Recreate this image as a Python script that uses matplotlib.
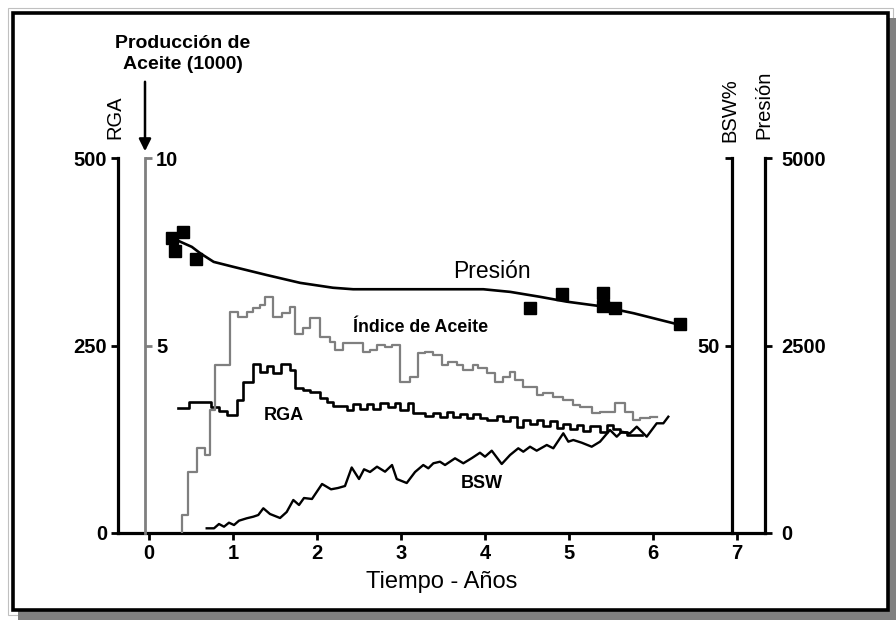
import matplotlib
matplotlib.use("Agg")
import matplotlib.pyplot as plt
from matplotlib.patches import Rectangle

plt.rcParams['font.family'] = ['Liberation Sans', 'DejaVu Sans']

# Presion: puntos medidos (anios, psi)
pres_anios = [0.27, 0.31, 0.40, 0.56, 4.53, 4.92, 5.40, 5.40, 5.55, 6.32]
pres_vals = [3930, 3760, 4015, 3650, 2995, 3185, 3195, 3025, 3005, 2790]

# Presion: curva suavizada
curva_anios = [0.33, 0.51, 0.61, 0.77, 1.00, 1.40, 1.80, 2.19, 2.43, 2.99,
               3.98, 4.30, 4.65, 4.97, 5.37, 5.77, 6.32]
curva_vals = [3905, 3815, 3730, 3615, 3550, 3440, 3335, 3270, 3250, 3250,
              3250, 3215, 3150, 3085, 3025, 2930, 2775]

# Produccion de aceite (miles) - escalones
aceite_anios = [0.389, 0.389, 0.468, 0.568, 0.667, 0.726, 0.786, 0.964, 1.063, 1.163,
                1.242, 1.321, 1.381, 1.480, 1.580, 1.679, 1.738, 1.837, 1.917, 2.036,
                2.155, 2.214, 2.310, 2.548, 2.631, 2.714, 2.810, 2.893, 2.988, 3.107,
                3.202, 3.286, 3.381, 3.488, 3.560, 3.667, 3.738, 3.857, 3.917, 4.024,
                4.119, 4.214, 4.298, 4.357, 4.452, 4.619, 4.690, 4.810, 4.929, 5.048,
                5.131, 5.274, 5.369, 5.548, 5.667, 5.762, 5.845, 5.964, 6.048]
aceite_vals = [0.0, 0.48, 1.63, 2.26, 2.08, 3.28, 4.48, 5.90, 5.77, 5.89,
               6.00, 6.08, 6.30, 5.77, 5.86, 6.03, 5.32, 5.47, 5.73, 5.23,
               5.10, 4.88, 5.06, 4.83, 4.88, 5.01, 4.97, 5.01, 4.03, 4.17,
               4.79, 4.83, 4.75, 4.48, 4.57, 4.48, 4.35, 4.48, 4.40, 4.27,
               4.03, 4.17, 4.30, 4.08, 3.90, 3.68, 3.73, 3.63, 3.55, 3.41,
               3.37, 3.19, 3.23, 3.46, 3.23, 3.01, 3.06, 3.10, 3.10]

# RGA - escalones
rga_anios = [0.345, 0.476, 0.738, 0.833, 0.929, 1.048, 1.119, 1.238, 1.321, 1.405,
             1.476, 1.571, 1.679, 1.738, 1.833, 1.917, 2.036, 2.119, 2.190, 2.274,
             2.357, 2.429, 2.512, 2.595, 2.667, 2.750, 2.845, 2.929, 2.988, 3.083,
             3.143, 3.286, 3.381, 3.464, 3.548, 3.619, 3.702, 3.786, 3.857, 3.940,
             4.024, 4.143, 4.214, 4.298, 4.381, 4.452, 4.536, 4.619, 4.690, 4.774,
             4.857, 4.929, 5.012, 5.095, 5.167, 5.250, 5.369, 5.452, 5.524, 5.607,
             5.690, 5.869]
rga_vals = [167, 175, 168, 163, 157, 177, 201, 225, 215, 223,
            213, 225, 217, 193, 191, 188, 180, 175, 169, 169,
            164, 172, 165, 172, 165, 173, 168, 173, 164, 173,
            160, 156, 160, 155, 161, 155, 159, 153, 159, 153,
            151, 156, 149, 155, 141, 151, 145, 151, 143, 149,
            140, 145, 139, 144, 136, 143, 135, 144, 139, 135,
            131, 131]

# BSW %
bsw_anios = [0.687, 0.774, 0.833, 0.893, 0.952, 1.012, 1.071, 1.163, 1.242, 1.301,
             1.361, 1.440, 1.560, 1.639, 1.718, 1.786, 1.845, 1.940, 2.060, 2.167,
             2.250, 2.333, 2.413, 2.500, 2.560, 2.631, 2.714, 2.810, 2.893, 2.949,
             3.068, 3.167, 3.265, 3.325, 3.385, 3.464, 3.524, 3.643, 3.742, 3.845,
             3.940, 4.000, 4.080, 4.199, 4.298, 4.396, 4.456, 4.536, 4.615, 4.735,
             4.813, 4.932, 4.992, 5.051, 5.151, 5.270, 5.369, 5.488, 5.568, 5.627,
             5.726, 5.806, 5.925, 6.044, 6.123, 6.182]
bsw_vals = [1.25, 1.25, 2.4, 1.68, 2.75, 2.13, 3.28, 3.92, 4.35, 4.8,
            6.59, 5.07, 4.0, 5.6, 8.8, 7.47, 9.33, 9.07, 13.07, 11.65,
            12.0, 12.53, 17.47, 14.4, 16.99, 16.27, 17.68, 16.35, 18.13, 14.4,
            13.33, 16.27, 18.13, 17.25, 18.59, 19.01, 18.13, 19.92, 18.59, 20.0,
            21.41, 20.35, 21.95, 18.4, 20.8, 22.59, 21.68, 23.01, 21.95, 23.47,
            22.59, 26.59, 24.35, 24.8, 24.08, 23.01, 24.35, 27.47, 25.68, 27.01,
            26.59, 28.35, 25.68, 29.25, 29.25, 31.01]

gris = '#7f7f7f'
tam_ticks = 14.5

fig = plt.figure(figsize=(8.96, 6.2), dpi=100)

# marco con sombra
fig.add_artist(Rectangle((8 / 896, 5 / 620), 885 / 896, 607 / 620, transform=fig.transFigure,
                         fill=False, edgecolor='#c0c0c0', lw=0.8, zorder=-6))
fig.add_artist(Rectangle((18 / 896, 0), 878 / 896, 602 / 620, transform=fig.transFigure,
                         facecolor='#808080', edgecolor='none', zorder=-5))
fig.add_artist(Rectangle((13 / 896, 10 / 620), 875 / 896, 597 / 620, transform=fig.transFigure,
                         facecolor='white', edgecolor='black', lw=2.6, zorder=-4))

ax = fig.add_axes([118 / 896, 87 / 620, 647 / 896, 375 / 620])
ax.patch.set_alpha(0)
ax.set_xlim(-0.369, 7.333)
ax.set_ylim(0, 500)
for s in ['top', 'right']:
    ax.spines[s].set_visible(False)
for s in ['left', 'bottom']:
    ax.spines[s].set_linewidth(2.3)
ax.set_xticks(range(8))
ax.set_yticks([0, 250, 500])
ax.tick_params(axis='both', width=2, length=5, labelsize=tam_ticks, pad=3)
for lbl in ax.get_xticklabels() + ax.get_yticklabels():
    lbl.set_fontweight('bold')
ax.set_xlabel('Tiempo - Años', fontsize=17, labelpad=6)

# eje produccion de aceite (gris)
ax_oil = ax.twinx()
ax_oil.set_ylim(0, 10)
for s in ['top', 'left', 'bottom']:
    ax_oil.spines[s].set_visible(False)
ax_oil.spines['right'].set_position(('axes', 27 / 647))
ax_oil.spines['right'].set_color(gris)
ax_oil.spines['right'].set_linewidth(2)
ax_oil.set_yticks([5, 10])
ax_oil.tick_params(axis='y', width=2, length=5, color=gris, labelsize=tam_ticks, pad=3)
for lbl in ax_oil.get_yticklabels():
    lbl.set_fontweight('bold')

# eje BSW %
ax_bsw = ax.twinx()
ax_bsw.set_ylim(0, 100)
for s in ['top', 'right', 'bottom']:
    ax_bsw.spines[s].set_visible(False)
ax_bsw.spines['left'].set_visible(True)
ax_bsw.spines['left'].set_position(('axes', 614 / 647))
ax_bsw.spines['left'].set_linewidth(2.3)
ax_bsw.yaxis.tick_left()
ax_bsw.set_yticks([50, 100])
ax_bsw.set_yticklabels(['50', ''])
ax_bsw.tick_params(axis='y', width=2, length=5, labelsize=tam_ticks, pad=4)
for lbl in ax_bsw.get_yticklabels():
    lbl.set_fontweight('bold')

# eje presion
ax_p = ax.twinx()
ax_p.set_ylim(0, 5000)
for s in ['top', 'left', 'bottom']:
    ax_p.spines[s].set_visible(False)
ax_p.spines['right'].set_linewidth(2.3)
ax_p.set_yticks([0, 2500, 5000])
ax_p.tick_params(axis='y', width=2, length=5, labelsize=tam_ticks, pad=7)
for lbl in ax_p.get_yticklabels():
    lbl.set_fontweight('bold')

# series
ax_oil.step(aceite_anios, aceite_vals, where='post', color=gris, lw=1.6)
ax.step(rga_anios, rga_vals, where='post', color='black', lw=1.9)
ax_bsw.plot(bsw_anios, bsw_vals, color='black', lw=1.7)
ax_p.plot(curva_anios, curva_vals, color='black', lw=1.9)
ax_p.plot(pres_anios, pres_vals, 's', color='black', markersize=8)

# etiquetas dentro
ax_p.text(4.08, 3480, 'Presión', ha='center', va='center', fontsize=16.5)
ax_oil.text(3.23, 5.47, 'Índice de Aceite', ha='center', va='center', fontsize=12.8, fontweight='bold')
ax.text(1.61, 157, 'RGA', ha='center', va='center', fontsize=13, fontweight='bold')
ax_bsw.text(3.96, 13.3, 'BSW', ha='center', va='center', fontsize=13, fontweight='bold')

# titulos de ejes
fig.text(115 / 896, (620 - 117) / 620, 'RGA', rotation=90, ha='center', va='center', fontsize=14.5)
fig.text(730 / 896, (620 - 110) / 620, 'BSW%', rotation=90, ha='center', va='center', fontsize=14.5)
fig.text(764 / 896, (620 - 105) / 620, 'Presión', rotation=90, ha='center', va='center', fontsize=14.5)
fig.text(183 / 896, (620 - 54) / 620, 'Producción de\nAceite (1000)', ha='center', va='center',
         fontsize=14, fontweight='bold', linespacing=1.25)
ax.annotate('', xy=(145, 466), xytext=(145, 541), xycoords='figure pixels',
            textcoords='figure pixels', annotation_clip=False,
            arrowprops=dict(arrowstyle='-|>', color='black', lw=1.8, mutation_scale=18))

fig.savefig('out.png', dpi=100, facecolor='white')
